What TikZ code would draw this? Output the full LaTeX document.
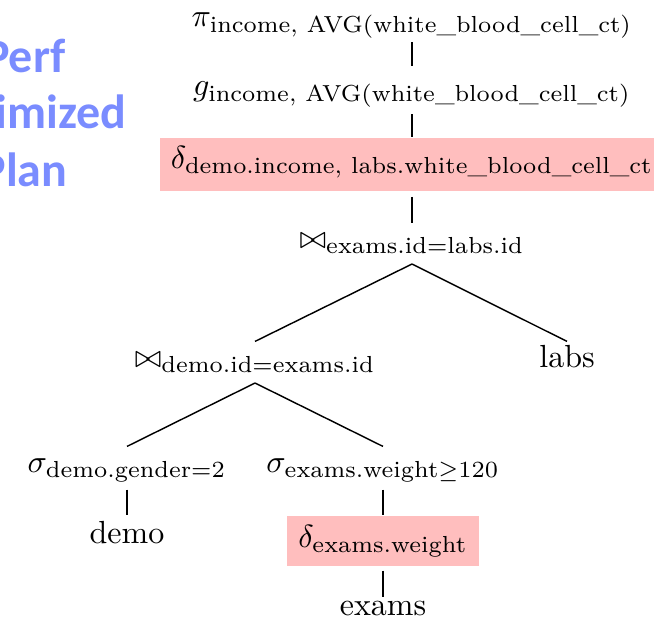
\documentclass[tikz,border=0pt]{standalone}
\usepackage{amsmath,amssymb}
\usepackage{fontspec}
\newfontfamily\carl{Carlito}
\definecolor{boxpink}{RGB}{255,190,190}
\definecolor{titleblue}{RGB}{122,140,255}
\tikzset{
  lbl/.style={inner sep=0pt, anchor=base, font=\fontsize{10}{12}\selectfont},
  joinlbl/.style={lbl, text depth=4.8pt},
  childlbl/.style={text height=7.8pt},
  hibox/.style={fill=boxpink, inner ysep=0pt, anchor=base},
  title/.style={inner sep=0pt, anchor=base east, text=titleblue, font=\carl\bfseries\fontsize{15}{18}\selectfont},
  edge/.style={line width=0.45pt, black}
}
\newcommand{\tx}[1]{\mbox{\fontsize{7.25}{8}\selectfont #1}}
\begin{document}
\begin{tikzpicture}[x=0.3125pt,y=-0.3125pt]
\useasboundingbox (0,0) rectangle (654,627);
\clip (0,0) rectangle (654,627);
% title fragments
\node[title] (t1) at (66,72) {Perf};
\node[title] (t2) at (127,128) {imized};
\node[title] (t3) at (68,186) {Plan};
% nodes
\node[lbl] (pi) at (412,26) {$\pi_{\tx{income, AVG(white\_blood\_cell\_ct)}}$};
\node[lbl] (g) at (412,95) {$g_{\tx{income, AVG(white\_blood\_cell\_ct)}}$};
\node[hibox, minimum width=157.5pt, text height=9.4pt, text depth=7.2pt] (d1) at (412,168)
  {$\delta_{\tx{demo.income, labs.white\_blood\_cell\_ct}}$};
\node[joinlbl] (j1) at (412,248) {$\bowtie_{\tx{exams.id=labs.id}}$};
\node[joinlbl, childlbl] (j2) at (255,367) {$\bowtie_{\tx{demo.id=exams.id}}$};
\node[lbl, childlbl] (labs) at (567,367) {labs};
\node[lbl, childlbl] (s1) at (127,472) {$\sigma_{\tx{demo.gender=2}}$};
\node[lbl, childlbl] (s2) at (383,472) {$\sigma_{\tx{exams.weight}\geq\tx{120}}$};
\node[lbl] (demo) at (127,543) {demo};
\node[hibox, minimum width=59.7pt, text height=9.7pt, text depth=5.9pt] (d2) at (383,547)
  {$\delta_{\tx{exams.weight}}$};
\node[lbl] (exams) at (383,615) {exams};
% connectors
\draw[edge, shorten <=1.1pt, shorten >=4.7pt] (pi.south) -- (g.north);
\draw[edge, shorten <=2pt] (g.south) -- (d1.north);
\draw[edge, shorten <=1.6pt, shorten >=3.1pt] (d1.south) -- (j1.north);
\draw[edge] (j1.south) -- (j2.north);
\draw[edge] (j1.south) -- (labs.north);
\draw[edge] (j2.south) -- (s1.north);
\draw[edge] (j2.south) -- (s2.north);
\draw[edge, shorten <=2.2pt, shorten >=1.6pt] (s1.south) -- (demo.north);
\draw[edge, shorten <=2.2pt] (s2.south) -- (d2.north);
\draw[edge, shorten <=1.25pt, shorten >=1pt] (d2.south) -- (exams.north);
\end{tikzpicture}
\end{document}
